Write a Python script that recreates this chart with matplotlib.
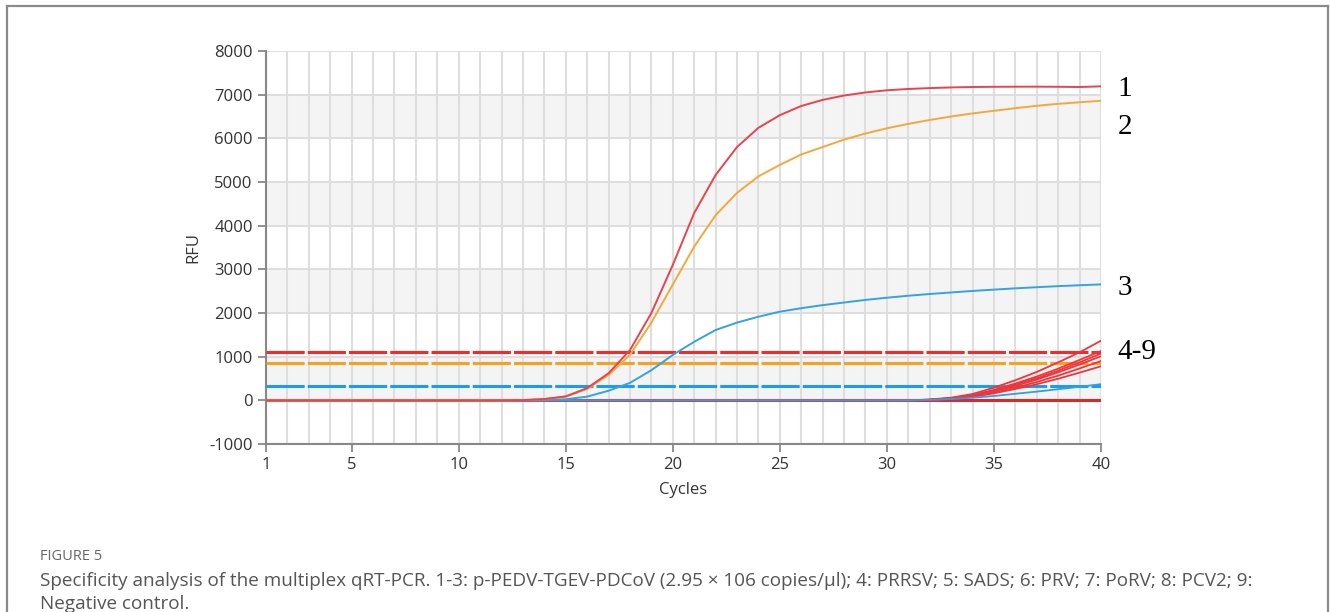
# Specificity analysis of the multiplex qRT-PCR (amplification curves)
import numpy as np
import matplotlib as mpl
import matplotlib.pyplot as plt
from matplotlib.lines import Line2D

mpl.rcParams['font.family'] = ['Open Sans', 'DejaVu Sans']
mpl.rcParams['axes.unicode_minus'] = False

# Data
cycles = np.arange(1, 41)

curve1 = [0, 0, 0, 0, 0, 0, 0, 0, 0, 0, 0, 0, 5, 30, 90, 280, 620, 1150, 2000, 3100,
          4290, 5160, 5800, 6240, 6530, 6740, 6880, 6980, 7050, 7100,
          7130, 7150, 7165, 7175, 7180, 7182, 7183, 7180, 7175, 7190]
curve2 = [0, 0, 0, 0, 0, 0, 0, 0, 0, 0, 0, 0, 5, 30, 85, 260, 580, 1040, 1780, 2650,
          3520, 4240, 4750, 5130, 5390, 5630, 5800, 5970, 6110, 6230,
          6330, 6420, 6500, 6570, 6630, 6690, 6745, 6790, 6825, 6860]
curve3 = [0, 0, 0, 0, 0, 0, 0, 0, 0, 0, 0, 0, 0, 0, 25, 85, 220, 400, 690, 1040,
          1340, 1610, 1780, 1915, 2030, 2110, 2180, 2240, 2300, 2350,
          2395, 2435, 2470, 2505, 2535, 2565, 2590, 2615, 2635, 2655]

# samples 4-9, late non-specific rise (cycles 31-40), earlier cycles at 0
late_red = [
    [0] * 30 + [0, 20, 60, 145, 290, 460, 650, 870, 1100, 1365],
    [0] * 30 + [0, 15, 50, 120, 240, 385, 545, 725, 925, 1130],
    [0] * 30 + [0, 12, 45, 110, 220, 355, 505, 680, 870, 1070],
    [0] * 30 + [0, 10, 40, 100, 205, 330, 475, 640, 820, 1010],
    [0] * 30 + [0, 10, 35, 90, 180, 290, 420, 565, 730, 900],
    [0] * 30 + [0, 8, 30, 80, 160, 260, 370, 495, 635, 780],
]
late_blue = [0] * 30 + [0, 10, 30, 60, 100, 150, 200, 255, 310, 370]
neg_ctrl = [0] * 40

thr_red = 1110
thr_orange = 860
thr_blue = 320

yticks = np.arange(-1000, 8001, 1000)
xticks = [1, 5, 10, 15, 20, 25, 30, 35, 40]

# Plot
fig = plt.figure(figsize=(13.3, 6.12), dpi=100)
ax = fig.add_axes([0.2, 0.2745, 0.6278, 0.6422])

c_red = '#e8434e'
c_orange = '#f2a93b'
c_blue = '#35a2e2'

# alternating bands and grid
for y0 in [0, 2000, 4000, 6000]:
    ax.axhspan(y0, y0 + 1000, color='#f4f4f4', zorder=0, lw=0)
for c in cycles:
    ax.axvline(c, color='#dedede', lw=1.5, zorder=1)
for y in yticks:
    ax.axhline(y, color='#dedede', lw=1.5, zorder=1)

# thresholds
dash = (12.5, 1.0)
ax.axhline(thr_red, color='#f42a2a', lw=2.2, dashes=dash, zorder=3)
ax.axhline(thr_orange, color='#f7a120', lw=2.2, dashes=dash, zorder=3)
ax.axhline(thr_blue, color='#1b9cf0', lw=2.2, dashes=dash, zorder=3)

# curves
ax.plot(cycles, neg_ctrl, color='#d82a2a', lw=2.2, zorder=4)
for vals in late_red:
    ax.plot(cycles, vals, color='#f0353a', lw=1.3, zorder=4)
ax.plot(cycles, late_blue, color='#2aa0e8', lw=1.3, zorder=4)
ax.plot(cycles, curve3, color=c_blue, lw=1.4, zorder=5)
ax.plot(cycles, curve2, color=c_orange, lw=1.4, zorder=5)
ax.plot(cycles, curve1, color=c_red, lw=1.4, zorder=5)

ax.set_xlim(1, 40)
ax.set_ylim(-1000, 8000)
ax.set_xticks(xticks)
ax.set_yticks(yticks)
ax.tick_params(colors='#888888', labelcolor='#333333', labelsize=12, length=6, width=1.3)
for s in ['top', 'right']:
    ax.spines[s].set_visible(False)
for s in ['left', 'bottom']:
    ax.spines[s].set_color('#888888')
    ax.spines[s].set_linewidth(1.5)
ax.set_xlabel('Cycles', fontsize=12, color='#333333', labelpad=6)
ax.set_ylabel('RFU', fontsize=12, color='#333333', labelpad=6)

# curve labels
lab = dict(family='Liberation Serif', fontsize=21, color='black', va='center', clip_on=False)
ax.text(41.1, 7120, '1', ha='center', **lab)
ax.text(41.1, 6270, '2', ha='center', **lab)
ax.text(41.1, 2580, '3', ha='center', **lab)
ax.text(40.75, 1100, '4-9', ha='left', **lab)

# caption
fig.text(40 / 1330, 1 - 556 / 612, 'FIGURE 5', fontsize=10.5, color='#666666', va='center')
fig.text(40 / 1330, 1 - 581 / 612,
         'Specificity analysis of the multiplex qRT-PCR. 1-3: p-PEDV-TGEV-PDCoV (2.95 \u00d7 106 copies/\u03bcl); '
         '4: PRRSV; 5: SADS; 6: PRV; 7: PoRV; 8: PCV2; 9:',
         fontsize=13.6, color='#555555', va='center')
fig.text(40 / 1330, 1 - 604 / 612, 'Negative control.', fontsize=13.6, color='#555555', va='center')

# outer frame
fw = dict(color='#8a8a8a', lw=1.6, transform=fig.transFigure)
fig.add_artist(Line2D([7 / 1330, 7 / 1330], [0, 1 - 6 / 612], **fw))
fig.add_artist(Line2D([7 / 1330, 1328 / 1330], [1 - 6 / 612, 1 - 6 / 612], **fw))
fig.add_artist(Line2D([1328 / 1330, 1328 / 1330], [0, 1 - 6 / 612], **fw))

fig.savefig('out.png', dpi=100)
plt.close()
